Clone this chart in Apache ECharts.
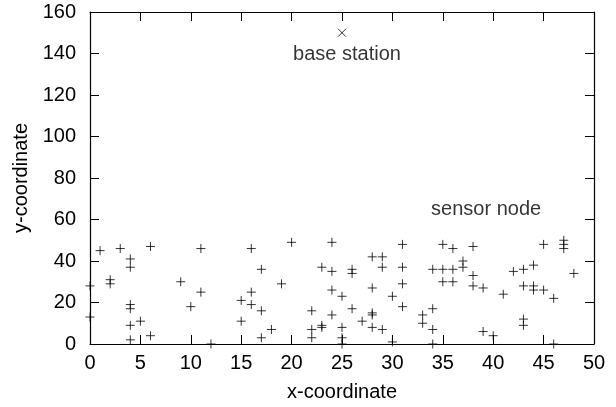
<!DOCTYPE html>
<html><head><meta charset="utf-8">
<script src="https://cdn.jsdelivr.net/npm/echarts@6/dist/echarts.min.js"></script>
<style>html,body{margin:0;padding:0;background:#fff}#c{width:616px;height:407px}</style>
</head><body><div id="c"></div>
<script>
// Sensor node coordinates
const sensorX = [0,0,1,2,2,3,4,4,4,4,4,4,5,6,6,9,10,11,11,12,15,15,16,16,16,17,17,17,18,19,20,
  22,22,22,23,23,23,24,24,24,24,25,25,25,25,26,26,26,27,28,28,28,28,28,29,29,29,30,30,
  31,31,31,31,33,33,34,34,34,34,35,35,35,36,36,36,37,37,38,38,38,39,39,40,41,42,43,43,43,43,
  44,44,44,45,45,46,46,47,47,47,48];
const sensorY = [28,13,45,31,29,46,41,37,19,17,9,2,11,47,4,30,18,46,25,0,21,11,46,25,19,36,16,3,7,29,49,
  16,7,3,37,9,8,49,35,26,14,23,8,3,0,36,34,17,11,42,27,15,14,8,42,37,7,23,1,
  48,37,29,18,14,10,36,17,7,0,48,36,30,46,36,30,40,37,47,33,28,27,6,4,24,35,36,28,12,9,
  38,28,26,48,26,22,0,50,48,46,34];
// Base station
const baseX = [25];
const baseY = [150];
const baseName = 'base station';
// Annotation
const noteText = 'sensor node';
const noteX = [39.3];
const noteY = [65];
// Axes
const xMin = 0, xMax = 50, xStep = 5;
const yMin = 0, yMax = 160, yStep = 20;
const xName = 'x-coordinate', yName = 'y-coordinate';

const FONT = 'Liberation Sans';
const FS = 20;
const sensors = sensorX.map((x, i) => [x, sensorY[i]]);
const base = baseX.map((x, i) => [x, baseY[i]]);
const note = noteX.map((x, i) => [x, noteY[i]]);

function axisCommon() {
  return {
    axisLine: {show: true, onZero: false, lineStyle: {color: '#000', width: 1.2}},
    axisTick: {show: true, inside: true, length: 9, lineStyle: {color: '#000', width: 1}},
    splitLine: {show: false}
  };
}
const chart = echarts.init(document.getElementById('c'));
chart.setOption({
  animation: false,
  backgroundColor: '#fff',
  grid: {left: 90, right: 22, top: 12, bottom: 61},
  xAxis: [
    Object.assign({type: 'value', min: xMin, max: xMax, interval: xStep, position: 'bottom',
      name: xName, nameLocation: 'middle', nameGap: 38,
      nameTextStyle: {fontFamily: FONT, fontSize: FS, color: '#000'},
      axisLabel: {fontFamily: FONT, fontSize: FS, color: '#000', margin: 9}}, axisCommon()),
    Object.assign({type: 'value', min: xMin, max: xMax, interval: xStep, position: 'top',
      axisLabel: {show: false}}, axisCommon())
  ],
  yAxis: [
    Object.assign({type: 'value', min: yMin, max: yMax, interval: yStep, position: 'left',
      name: yName, nameLocation: 'middle', nameGap: 59,
      nameTextStyle: {fontFamily: FONT, fontSize: FS, color: '#000'},
      axisLabel: {fontFamily: FONT, fontSize: FS, color: '#000', margin: 14}}, axisCommon()),
    Object.assign({type: 'value', min: yMin, max: yMax, interval: yStep, position: 'right',
      axisLabel: {show: false}}, axisCommon())
  ],
  series: [
    {type: 'scatter', data: sensors, symbol: 'path://M0,5L10,5M5,0L5,10', symbolSize: 9,
      itemStyle: {color: 'rgba(0,0,0,0)', borderColor: '#000', borderWidth: 1}, silent: true},
    {type: 'scatter', data: base, symbol: 'path://M0,0L10,10M10,0L0,10', symbolSize: 8,
      itemStyle: {color: 'rgba(0,0,0,0)', borderColor: '#000', borderWidth: 1}, silent: true,
      label: {show: true, position: 'bottom', distance: 7, offset: [5, 0], formatter: baseName,
        fontFamily: FONT, fontSize: FS, color: '#000'}},
    {type: 'scatter', data: note, symbolSize: 0, silent: true,
      label: {show: true, position: 'inside', formatter: noteText,
        fontFamily: FONT, fontSize: FS, color: '#000'}}
  ]
});
</script></body></html>
